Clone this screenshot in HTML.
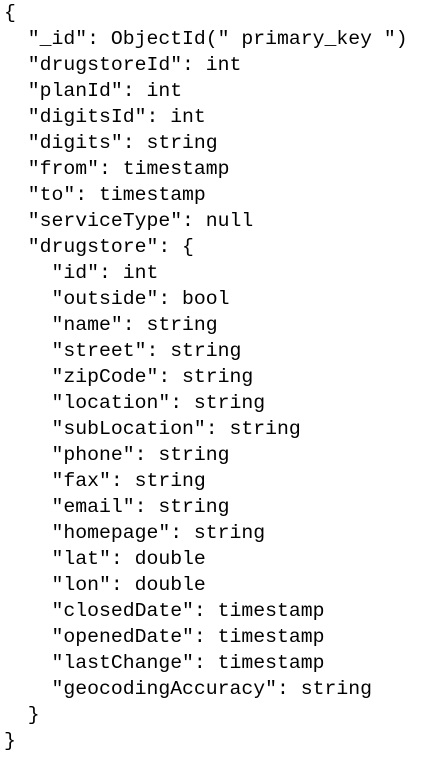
<!DOCTYPE html>
<html><head><style>
html,body{margin:0;padding:0;background:#fff;width:439px;height:759px;overflow:hidden}
pre{margin:0;position:absolute;left:4px;top:0;font-family:"Liberation Mono",monospace;font-size:19.8px;line-height:26px;color:#000}
</style></head><body><pre>{
  "_id": ObjectId(" primary_key ")
  "drugstoreId": int
  "planId": int
  "digitsId": int
  "digits": string
  "from": timestamp
  "to": timestamp
  "serviceType": null
  "drugstore": {
    "id": int
    "outside": bool
    "name": string
    "street": string
    "zipCode": string
    "location": string
    "subLocation": string
    "phone": string
    "fax": string
    "email": string
    "homepage": string
    "lat": double
    "lon": double
    "closedDate": timestamp
    "openedDate": timestamp
    "lastChange": timestamp
    "geocodingAccuracy": string
  }
}</pre></body></html>
